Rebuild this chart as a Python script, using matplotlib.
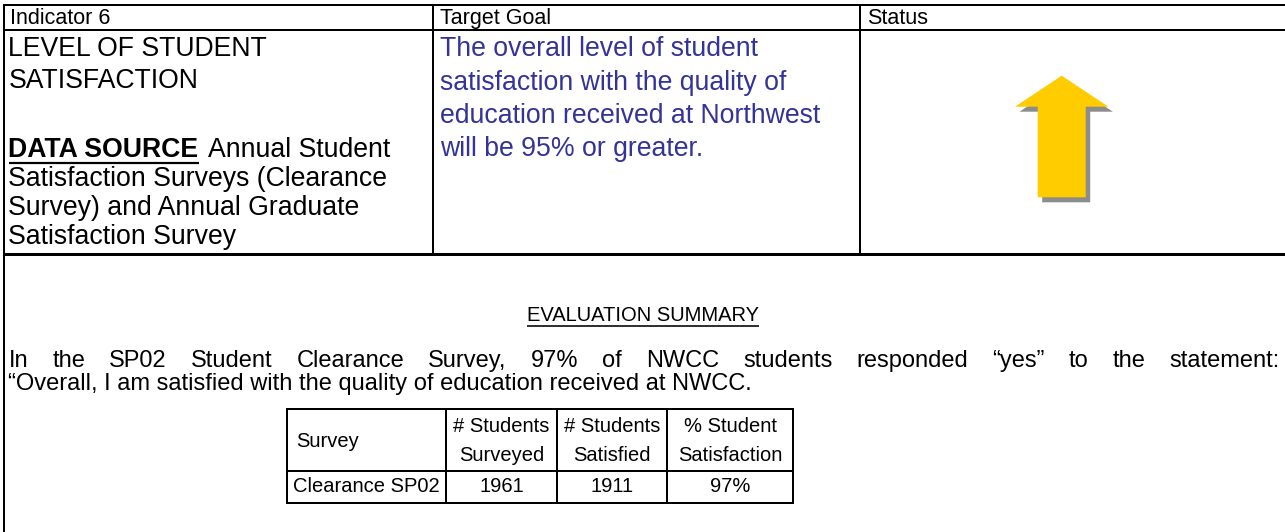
import matplotlib

matplotlib.use("Agg")

import matplotlib.pyplot as plt
from matplotlib.patches import Polygon

W, H = 1285, 532

# --- content -------------------------------------------------------------
HEADER = ["Indicator 6", "Target Goal", "Status"]
INDICATOR_LINES = ["LEVEL OF STUDENT", "SATISFACTION"]
SOURCE_LABEL = "DATA SOURCE"
SOURCE_LINES = [
    "Annual Student",
    "Satisfaction Surveys (Clearance",
    "Survey) and Annual Graduate",
    "Satisfaction Survey",
]
GOAL_LINES = [
    "The overall level of student",
    "satisfaction with the quality of",
    "education received at Northwest",
    "will be 95% or greater.",
]
SUMMARY_TITLE = "EVALUATION SUMMARY"
SUMMARY_LINES = [
    "In the SP02 Student Clearance Survey, 97% of NWCC students responded \u201cyes\u201d to the statement:",
    "\u201cOverall, I am satisfied with the quality of education received at NWCC.",
]
TABLE_HEADER = [["Survey"], ["# Students", "Surveyed"], ["# Students", "Satisfied"], ["% Student", "Satisfaction"]]
SURVEYS = ["Clearance SP02"]
N_SURVEYED = [1961]
N_SATISFIED = [1911]
PCT_SATISFIED = [97]

BLUE = "#333399"
FONT = "Liberation Sans"
HEAD_SIZE = 15.5
BODY_SIZE = 19.2
PARA_SIZE = 17.0
TABLE_SIZE = 14.5

fig = plt.figure(figsize=(W / 100, H / 100), dpi=100)
ax = fig.add_axes([0, 0, 1, 1])
ax.set_xlim(0, W)
ax.set_ylim(H, 0)
ax.axis("off")
renderer = fig.canvas.get_renderer()


def hline(x0, x1, y, px=2.0):
    ax.plot([x0, x1], [y, y], color="black", lw=px * 0.72, solid_capstyle="projecting")


def vline(x, y0, y1, px=2.0):
    ax.plot([x, x], [y0, y1], color="black", lw=px * 0.72, solid_capstyle="projecting")


def put(x, y, s, size, **kw):
    return ax.text(x, y, s, family=FONT, fontsize=size, va="baseline", **kw)


def width(t):
    return t.get_window_extent(renderer).width


def underline(t, y, px=1.6):
    bb = t.get_window_extent(renderer)
    ax.plot([bb.x0, bb.x1], [y, y], color="black", lw=px * 0.72, solid_capstyle="butt")


def justify(line, x0, x1, y, size):
    words = line.split(" ")
    arts = [put(0, y, w, size) for w in words]
    widths = [width(a) for a in arts]
    gap = (x1 - x0 - sum(widths)) / (len(words) - 1)
    x = x0
    for a, w in zip(arts, widths):
        a.set_x(x)
        x += w + gap


# --- upper table ------------------------------------------------------------
left, c1, c2, right = 3.5, 433, 860, W + 5
top, head_bot, row_bot = 5, 29.5, 254
hline(left, right, top)
hline(left, right, head_bot)
hline(left, right, row_bot, px=3)
vline(left, top, H + 5)
vline(c1, top, row_bot)
vline(c2, top, row_bot)

pad = 5.0
for x, s in zip([left, c1, c2], HEADER):
    put(x + pad + 2, 24, s, HEAD_SIZE)

for i, s in enumerate(INDICATOR_LINES):
    put(left + pad, 56 + i * 32, s, BODY_SIZE)

lab = put(left + pad, 157, SOURCE_LABEL, BODY_SIZE, weight="bold")
underline(lab, 163, px=2.2)
put(lab.get_window_extent(renderer).x1 + 9, 157, SOURCE_LINES[0], BODY_SIZE)
for i, s in enumerate(SOURCE_LINES[1:]):
    put(left + pad, 186 + i * 29, s, BODY_SIZE)

for i, s in enumerate(GOAL_LINES):
    put(c1 + pad + 2, 56 + i * 33.5, s, BODY_SIZE, color=BLUE)


# status arrow with drop shadow
def arrow_points(cx, tip, head_y, head_half, shaft_half, bottom, dx=0.0, dy=0.0):
    pts = [
        (cx, tip),
        (cx + head_half, head_y),
        (cx + shaft_half, head_y),
        (cx + shaft_half, bottom),
        (cx - shaft_half, bottom),
        (cx - shaft_half, head_y),
        (cx - head_half, head_y),
    ]
    return [(x + dx, y + dy) for x, y in pts]


arrow = dict(cx=1061.7, tip=75.7, head_y=106.7, head_half=46.7, shaft_half=24, bottom=197.3)
ax.add_patch(Polygon(arrow_points(**arrow, dx=4.5, dy=5), closed=True, facecolor="#8c8c8c", edgecolor="none"))
ax.add_patch(Polygon(arrow_points(**arrow), closed=True, facecolor="#ffcc00", edgecolor="none"))

# --- evaluation summary -----------------------------------------------------
title = put(643, 321, SUMMARY_TITLE, TABLE_SIZE, ha="center")
underline(title, 325.5)
justify(SUMMARY_LINES[0], left + pad, 1280, 367, PARA_SIZE)
put(left + pad, 390, SUMMARY_LINES[1], PARA_SIZE)

# --- small survey table -----------------------------------------------------
cols = [287, 446, 557, 667, 793]
t_top, t_mid, t_bot = 409, 471, 503
for y in (t_top, t_mid, t_bot):
    hline(cols[0], cols[-1], y)
for x in cols:
    vline(x, t_top, t_bot)

for j, lines in enumerate(TABLE_HEADER):
    if j == 0:
        put(cols[0] + 9, 447, lines[0], TABLE_SIZE)
        continue
    cx = (cols[j] + cols[j + 1]) / 2
    for k, s in enumerate(lines):
        put(cx, 432 + k * 29, s, TABLE_SIZE, ha="center")

for i, name in enumerate(SURVEYS):
    row = [f"{N_SURVEYED[i]}", f"{N_SATISFIED[i]}", f"{PCT_SATISFIED[i]}%"]
    put(cols[0] + 6, 492, name, TABLE_SIZE)
    for j, s in enumerate(row):
        put((cols[j + 1] + cols[j + 2]) / 2, 492, s, TABLE_SIZE, ha="center")

fig.savefig("out.png", dpi=100)
